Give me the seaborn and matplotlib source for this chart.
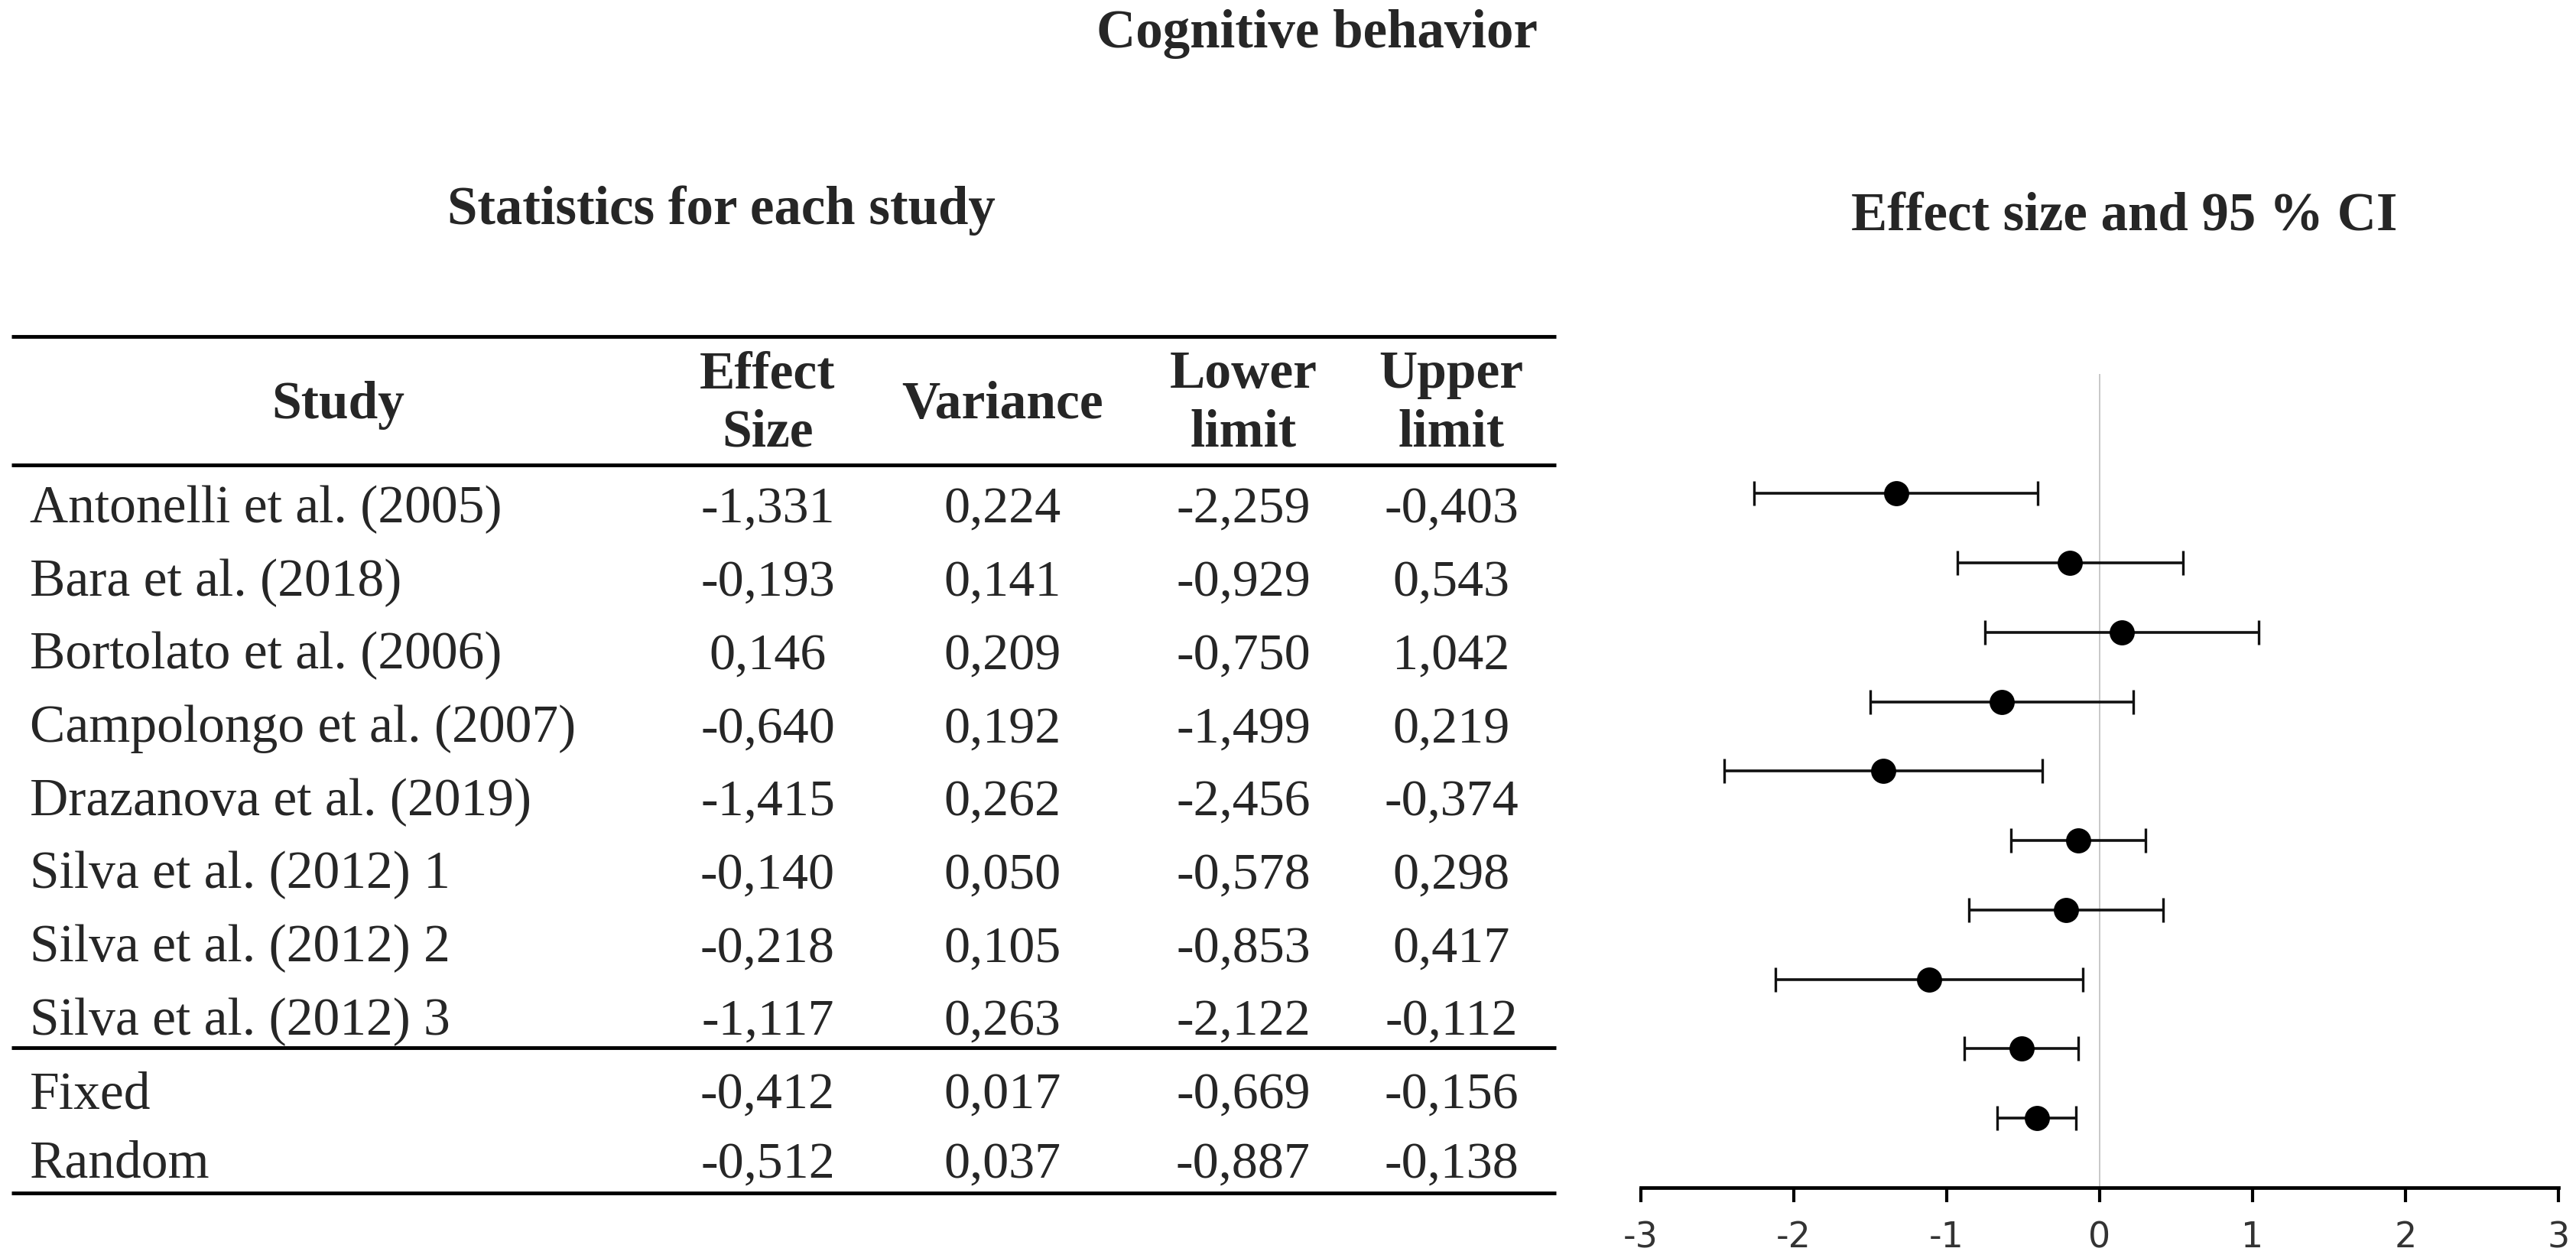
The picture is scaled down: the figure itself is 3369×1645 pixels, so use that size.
import numpy as np
import pandas as pd
import seaborn as sns
import matplotlib
matplotlib.use("Agg")
import matplotlib.pyplot as plt

# table data
studies = [
    "Antonelli et al. (2005)",
    "Bara et al. (2018)",
    "Bortolato et al. (2006)",
    "Campolongo et al. (2007)",
    "Drazanova et al. (2019)",
    "Silva et al. (2012) 1",
    "Silva et al. (2012) 2",
    "Silva et al. (2012) 3",
]
effect = [-1.331, -0.193, 0.146, -0.640, -1.415, -0.140, -0.218, -1.117]
variance = [0.224, 0.141, 0.209, 0.192, 0.262, 0.050, 0.105, 0.263]
lower = [-2.259, -0.929, -0.750, -1.499, -2.456, -0.578, -0.853, -2.122]
upper = [-0.403, 0.543, 1.042, 0.219, -0.374, 0.298, 0.417, -0.112]

summary_names = ["Fixed", "Random"]
summary_effect = [-0.412, -0.512]
summary_variance = [0.017, 0.037]
summary_lower = [-0.669, -0.887]
summary_upper = [-0.156, -0.138]

# the forest panel draws the two pooled rows in the other order
forest_summary_order = ["Random", "Fixed"]

header_cols = [("Effect", "Size"), ("Variance",), ("Lower", "limit"), ("Upper", "limit")]
xticks = [-3, -2, -1, 0, 1, 2, 3]

sns.set_theme(style="white")
plt.rcParams["font.family"] = ["Liberation Serif", "DejaVu Serif"]
plt.rcParams["axes.unicode_minus"] = False

W, H = 3369, 1645
fig = plt.figure(figsize=(W / 100, H / 100), dpi=100)

# table drawn in pixel coordinates
tab = fig.add_axes([0, 0, 1, 1])
tab.set_xlim(0, W)
tab.set_ylim(H, 0)
tab.axis("off")

def fmt(v):
    return f"{v:.3f}".replace(".", ",")

fig.text(1722 / W, 1 - 62 / H, "Cognitive behavior", ha="center", va="baseline",
         fontsize=51, fontweight="bold")
fig.text(943 / W, 1 - 293 / H, "Statistics for each study", ha="center", va="baseline",
         fontsize=51, fontweight="bold")
fig.text(2778 / W, 1 - 302 / H, "Effect size and 95 % CI", ha="center", va="baseline",
         fontsize=51, fontweight="bold")

x0, x1 = 15, 2035
for yl in [440, 608, 1370, 1560]:
    tab.plot([x0, x1], [yl, yl], color="black", lw=3.5, solid_capstyle="butt")

col_x = [1004, 1311, 1626, 1898]
tab.text(442, 530, "Study", ha="center", va="center", fontsize=50, fontweight="bold")
for cx, lines in zip(col_x, header_cols):
    if len(lines) == 1:
        tab.text(cx, 530, lines[0], ha="center", va="center", fontsize=50, fontweight="bold")
    else:
        tab.text(cx, 490, lines[0], ha="center", va="center", fontsize=50, fontweight="bold")
        tab.text(cx, 567, lines[1], ha="center", va="center", fontsize=50, fontweight="bold")

row_y = [660 + i * 95.7 for i in range(len(studies))] + [1426, 1517]
all_names = studies + summary_names
cols = [effect + summary_effect, variance + summary_variance,
        lower + summary_lower, upper + summary_upper]
for i, (name, y) in enumerate(zip(all_names, row_y)):
    tab.text(39, y + 23, name, ha="left", va="baseline", fontsize=50)
    for cx, col in zip(col_x, cols):
        tab.text(cx, y + 23, fmt(col[i]), ha="center", va="baseline", fontsize=49)

# forest plot
sum_map = {n: (e, l, u) for n, e, l, u in zip(summary_names, summary_effect,
                                              summary_lower, summary_upper)}
forest = pd.DataFrame({
    "name": studies + forest_summary_order,
    "effect": effect + [sum_map[n][0] for n in forest_summary_order],
    "lower": lower + [sum_map[n][1] for n in forest_summary_order],
    "upper": upper + [sum_map[n][2] for n in forest_summary_order],
})
forest["row"] = np.arange(len(forest))

ax = fig.add_axes([2146 / W, (H - 1553) / H, 1200 / W, (1553 - 489) / H])
ax.set_facecolor("none")
ax.axvline(0, color="#c4c4c4", lw=1.3, zorder=0)
ax.errorbar(forest["effect"], forest["row"],
            xerr=[forest["effect"] - forest["lower"], forest["upper"] - forest["effect"]],
            fmt="none", ecolor="#111111", elinewidth=2.6, capsize=11.5, capthick=2.4, zorder=2)
sns.scatterplot(data=forest, x="effect", y="row", s=560, color="black",
                edgecolor="black", linewidth=0, ax=ax, zorder=3, legend=False)

ax.set_xlim(-3, 3)
ax.set_ylim(10.0, -1.72)
ax.set_xticks(xticks)
ax.set_xticklabels([str(t) for t in xticks], family="DejaVu Sans", fontsize=33, color="#333333")
ax.set_yticks([])
ax.set_xlabel("")
ax.set_ylabel("")
for s in ["left", "top", "right"]:
    ax.spines[s].set_visible(False)
ax.spines["bottom"].set_color("black")
ax.spines["bottom"].set_linewidth(3.4)
ax.tick_params(axis="x", direction="out", length=14, width=3, color="black", pad=17, bottom=True)

fig.savefig("out.png", dpi=100)
